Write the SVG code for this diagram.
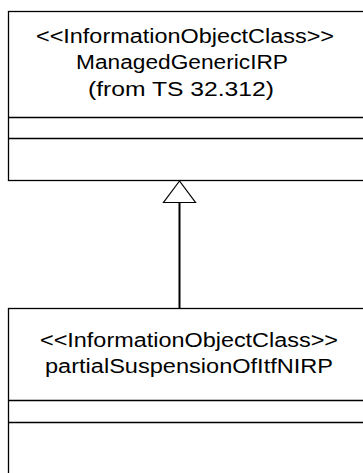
<svg xmlns="http://www.w3.org/2000/svg" width="363" height="473" viewBox="0 0 363 473">
<style>
.box{fill:#fff;stroke:#000;stroke-width:1.3}
.div{stroke:#000;stroke-width:1.3}
.t{font-family:"Liberation Sans",Arial,sans-serif;font-size:20px;fill:#000;text-anchor:middle}
.conn{stroke:#000;stroke-width:2;fill:none}
.head{fill:#fff;stroke:#000;stroke-width:1.2}
</style>
<rect width="363" height="473" fill="#fff"/>
<g id="ManagedGenericIRP">
<rect class="box" x="8.5" y="11.5" width="370" height="169"/>
<line class="div" x1="8.5" y1="117.5" x2="370" y2="117.5"/>
<line class="div" x1="8.5" y1="138.5" x2="370" y2="138.5"/>
<text class="t" x="185" y="42.5" textLength="298" lengthAdjust="spacingAndGlyphs">&lt;&lt;InformationObjectClass&gt;&gt;</text>
<text class="t" x="182" y="69" textLength="212" lengthAdjust="spacingAndGlyphs">ManagedGenericIRP</text>
<text class="t" x="181" y="95.5" textLength="186" lengthAdjust="spacingAndGlyphs">(from TS 32.312)</text>
</g>
<g id="partialSuspensionOfItfNIRP">
<rect class="box" x="8.5" y="308.5" width="370" height="200"/>
<line class="div" x1="8.5" y1="400.5" x2="370" y2="400.5"/>
<line class="div" x1="8.5" y1="422.5" x2="370" y2="422.5"/>
<text class="t" x="189" y="346.5" textLength="298" lengthAdjust="spacingAndGlyphs">&lt;&lt;InformationObjectClass&gt;&gt;</text>
<text class="t" x="189" y="372.5" textLength="288" lengthAdjust="spacingAndGlyphs">partialSuspensionOfItfNIRP</text>
</g>
<g id="connectors">
<line class="conn" x1="179.5" y1="202.5" x2="179.5" y2="308.5"/>
<polygon class="head" points="179.5,181 163.5,202.5 195.5,202.5"/>
</g>
</svg>
